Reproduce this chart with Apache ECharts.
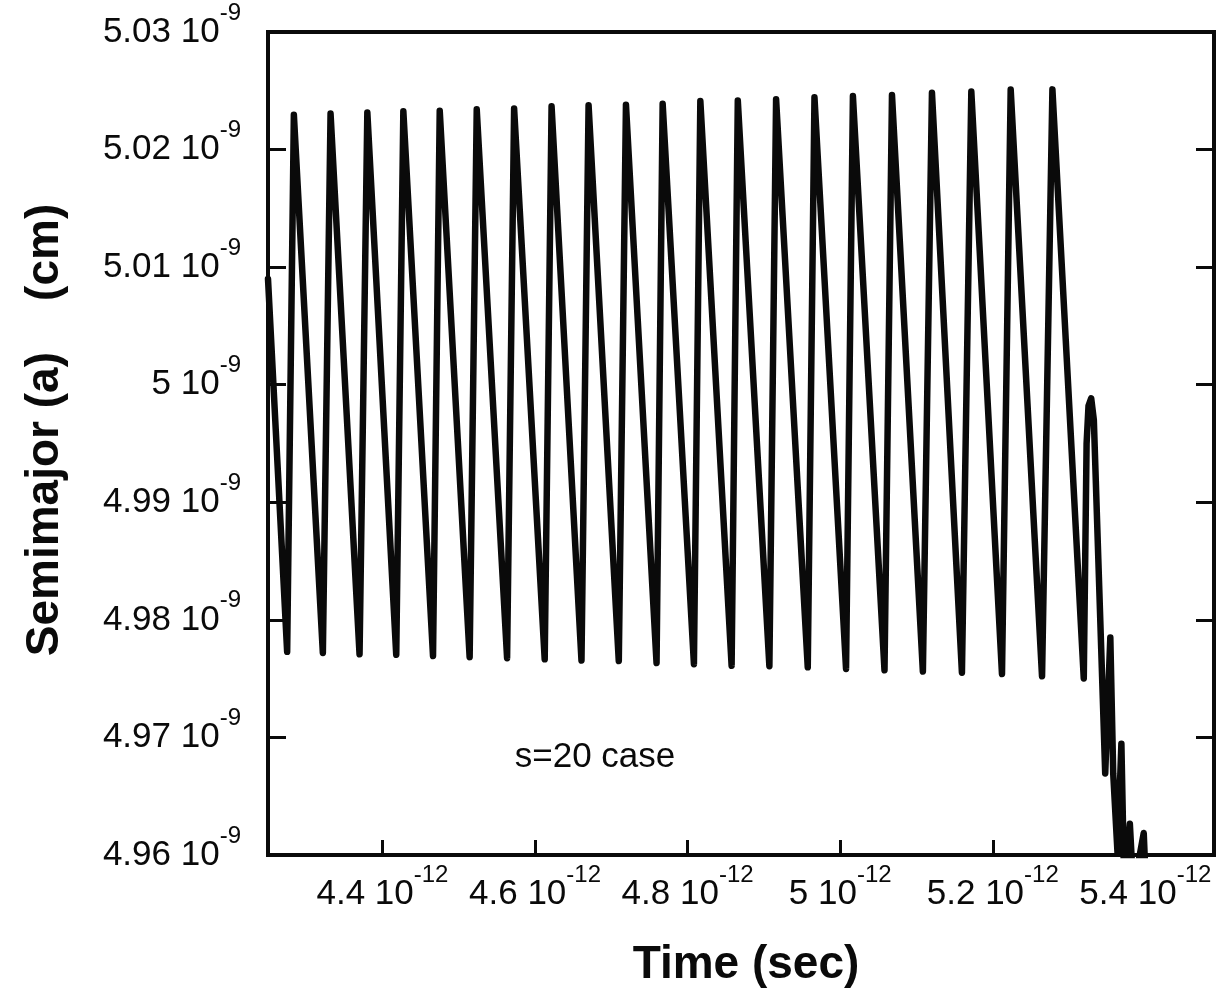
<!DOCTYPE html>
<html>
<head>
<meta charset="utf-8">
<title>Semimajor (a) vs Time</title>
<script src="https://cdn.jsdelivr.net/npm/echarts@6/dist/echarts.min.js"></script>
<style>
  html, body { margin: 0; padding: 0; background: #fff; }
  #chart { width: 1220px; height: 993px; }
</style>
</head>
<body>
<div id="chart"></div>
<script>
// Time in units of 1e-12 s
const timeValues = [
  4.2500,
  4.2751, 4.2839, 4.3219, 4.3320, 4.3700, 4.3802, 4.4181, 4.4274,
  4.4663, 4.4751, 4.5143, 4.5236, 4.5634, 4.5726, 4.6127, 4.6217,
  4.6609, 4.6702, 4.7098, 4.7192, 4.7593, 4.7673, 4.8083, 4.8167,
  4.8577, 4.8658, 4.9072, 4.9160, 4.9575, 4.9663, 5.0077, 5.0167,
  5.0581, 5.0679, 5.1084, 5.1203, 5.1596, 5.1719, 5.2121, 5.2235,
  5.2646, 5.2782, 5.3193,
  5.3230, 5.3255, 5.3290, 5.3325, 5.3474, 5.3541, 5.3579, 5.3636, 5.3686,
  5.3724, 5.3797, 5.3843, 5.3979, 5.4013
];
// Semimajor axis in units of 1e-9 cm
const semimajorValues = [
  5.0090,
  4.97728, 5.02296, 4.97719, 5.02306, 4.97707, 5.02316, 4.97703, 5.02327,
  4.97693, 5.02331, 4.97683, 5.02342, 4.97674, 5.02349, 4.97664, 5.02368,
  4.97654, 5.02377, 4.97650, 5.02382, 4.97633, 5.02390, 4.97623, 5.02414,
  4.97610, 5.02418, 4.97606, 5.02429, 4.97596, 5.02444, 4.97583, 5.02455,
  4.97571, 5.02464, 4.97561, 5.02483, 4.97551, 5.02493, 4.97539, 5.02511,
  4.97520, 5.02512, 4.97502,
  4.99500, 4.99820, 4.99885, 4.99700, 4.96694, 4.97850, 4.96693, 4.96011, 4.96947,
  4.95700, 4.96266, 4.95700, 4.96187, 4.95650
];
const timeTicks = [4.4, 4.6, 4.8, 5.0, 5.2, 5.4];
const yMin = 4.96, yMax = 5.03, yStep = 0.01;
const xMin = 4.25, xMax = 5.49;

const FONT = "'Liberation Sans', Arial, Helvetica, sans-serif";
const INK = '#0a0a0a';

function trim(v) { return String(parseFloat(v.toFixed(2))); }

// mantissa + "10" on a tall line, exponent pinned to the top of that line
const labelRich = {
  m: { fontFamily: FONT, fontSize: 35, lineHeight: 62, color: INK },
  s: { fontFamily: FONT, fontSize: 24, lineHeight: 24, color: INK, verticalAlign: 'top' }
};

const points = timeValues.map((t, i) => [t, semimajorValues[i]]);

const chart = echarts.init(document.getElementById('chart'), null, { renderer: 'canvas' });
chart.setOption({
  animation: false,
  backgroundColor: '#fff',
  grid: {
    left: 268, right: 6, top: 32, bottom: 138,
    show: true, borderColor: INK, borderWidth: 4, backgroundColor: 'transparent'
  },
  xAxis: {
    type: 'value', min: xMin, max: xMax,
    axisLine: { show: false },
    splitLine: { show: false },
    axisTick: { show: true, inside: true, length: 15, lineStyle: { color: INK, width: 3 }, customValues: timeTicks },
    axisLabel: {
      show: true, margin: 8, customValues: timeTicks,
      formatter: v => '{m|' + trim(v) + ' 10}{s|-12}',
      rich: labelRich
    }
  },
  yAxis: [{
    type: 'value', min: yMin, max: yMax, interval: yStep, position: 'left',
    axisLine: { show: false },
    splitLine: { show: false },
    axisTick: { show: true, inside: true, length: 18, lineStyle: { color: INK, width: 3 } },
    axisLabel: {
      show: true, margin: 27,
      formatter: v => '{m|' + trim(v) + ' 10}{s|-9}',
      rich: labelRich
    }
  }, {
    type: 'value', min: yMin, max: yMax, interval: yStep, position: 'right',
    axisLine: { show: false },
    splitLine: { show: false },
    axisTick: { show: true, inside: true, length: 18, lineStyle: { color: INK, width: 3 } },
    axisLabel: { show: false }
  }],
  graphic: [
    {
      type: 'text', x: 746, y: 965,
      style: { text: 'Time (sec)', font: 'bold 46px ' + FONT, fill: INK, textAlign: 'center', textVerticalAlign: 'middle' }
    },
    {
      type: 'text', x: 45, y: 430, rotation: Math.PI / 2,
      style: { text: 'Semimajor (a)    (cm)', font: 'bold 46px ' + FONT, fill: INK, textAlign: 'center', textVerticalAlign: 'middle' }
    },
    {
      type: 'text', x: 595, y: 757,
      style: { text: 's=20 case', font: '35px ' + FONT, fill: INK, textAlign: 'center', textVerticalAlign: 'middle' }
    }
  ],
  series: [{
    type: 'line',
    data: points,
    showSymbol: false,
    clip: true,
    lineStyle: { color: INK, width: 6.5, join: 'round', cap: 'round' }
  }]
});
</script>
</body>
</html>
